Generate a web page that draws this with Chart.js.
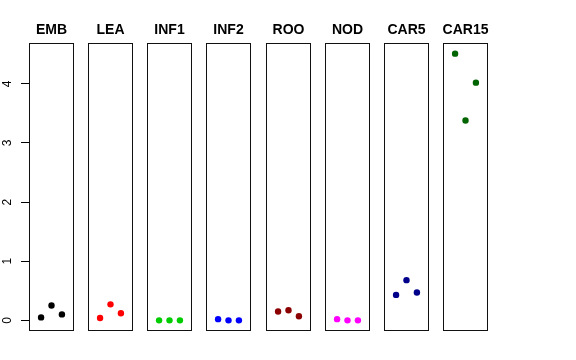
<!DOCTYPE html>
<html>
<head>
<meta charset="utf-8">
<script src="https://cdn.jsdelivr.net/npm/chart.js@4"></script>
<style>
  html, body { margin: 0; padding: 0; background: #fff; }
  #wrap { position: relative; width: 576px; height: 360px; overflow: hidden; }
  #wrap canvas { position: absolute; top: 0; }
</style>
</head>
<body>
<div id="wrap"></div>
<script>
// ---- data ----
const panels = ["EMB", "LEA", "INF1", "INF2", "ROO", "NOD", "CAR5", "CAR15"];
const reps = [1, 2, 3];
const EMB   = [0.05, 0.25, 0.10];
const LEA   = [0.04, 0.27, 0.12];
const INF1  = [0.00, 0.00, 0.00];
const INF2  = [0.02, 0.00, 0.00];
const ROO   = [0.15, 0.17, 0.07];
const NOD   = [0.02, 0.00, 0.00];
const CAR5  = [0.43, 0.68, 0.47];
const CAR15 = [4.51, 3.38, 4.02];
const yTicks = [0, 1, 2, 3, 4];

const seriesValues = [EMB, LEA, INF1, INF2, ROO, NOD, CAR5, CAR15];
const colors = ["#000000", "#FF0000", "#00CD00", "#0000FF", "#8B0000", "#FF00FF", "#00008B", "#006400"];

// ---- layout ----
const W = 576, H = 360;
const firstLeft = 29, panelW = 45, step = 59.14;
const areaTop = 43, areaBottom = 331;
const axisW = 29;
const margin = 10;
const FONT = '"Liberation Sans", Arial, Helvetica, sans-serif';

const dataMax = Math.max(...seriesValues.flat());
const yPad = dataMax * 0.04;
const yMin = -yPad, yMax = dataMax + yPad;

const boxAndTitle = {
  id: 'boxAndTitle',
  afterDraw(chart, args, opts) {
    const {ctx, chartArea: a} = chart;
    ctx.save();
    ctx.strokeStyle = '#111';
    ctx.lineWidth = 1;
    ctx.strokeRect(Math.round(a.left) + 0.5, Math.round(a.top) + 0.5,
                   Math.round(a.right - a.left) - 1, Math.round(a.bottom - a.top) - 1);
    ctx.fillStyle = '#000';
    ctx.font = 'bold 14px ' + FONT;
    ctx.textAlign = 'center';
    ctx.textBaseline = 'middle';
    ctx.fillText(opts.text, (a.left + a.right) / 2, 30);
    ctx.restore();
  }
};

const wrap = document.getElementById('wrap');
panels.forEach((name, i) => {
  const first = i === 0;
  const pLeft = Math.round(firstLeft + i * step);
  const cLeft = first ? 0 : pLeft - margin;
  const cW = first ? pLeft + panelW + margin : panelW + 2 * margin;
  const cv = document.createElement('canvas');
  cv.width = cW; cv.height = H;
  cv.style.left = cLeft + 'px';
  cv.style.width = cW + 'px';
  cv.style.height = H + 'px';
  wrap.appendChild(cv);

  new Chart(cv, {
    type: 'scatter',
    data: {
      datasets: [{
        label: name,
        data: reps.map((r, k) => ({x: r, y: seriesValues[i][k]})),
        backgroundColor: colors[i],
        borderColor: colors[i],
        pointRadius: 3.2,
        pointHoverRadius: 3.2,
        borderWidth: 0
      }]
    },
    options: {
      responsive: false,
      animation: false,
      devicePixelRatio: 1,
      clip: false,
      layout: { autoPadding: false, padding: { top: areaTop, bottom: H - areaBottom, left: first ? 0 : margin, right: margin } },
      plugins: {
        legend: { display: false },
        tooltip: { enabled: false },
        title: { display: false },
        boxAndTitle: { text: name }
      },
      scales: {
        x: {
          type: 'linear', min: -0.16, max: 4.16, display: false
        },
        y: {
          type: 'linear', min: yMin, max: yMax,
          display: first,
          afterFit: (s) => { s.width = first ? axisW : 0; },
          afterBuildTicks: (s) => { s.ticks = yTicks.map(v => ({value: v})); },
          border: { display: false },
          grid: { drawOnChartArea: false, drawTicks: true, tickLength: 8, color: '#000', tickWidth: 1 },
          ticks: {
            color: '#000',
            font: { family: FONT, size: 12 },
            minRotation: 90, maxRotation: 90,
            crossAlign: 'center',
            padding: 10,
            callback: (v) => String(v)
          }
        }
      }
    },
    plugins: [boxAndTitle]
  });
});
</script>
</body>
</html>
